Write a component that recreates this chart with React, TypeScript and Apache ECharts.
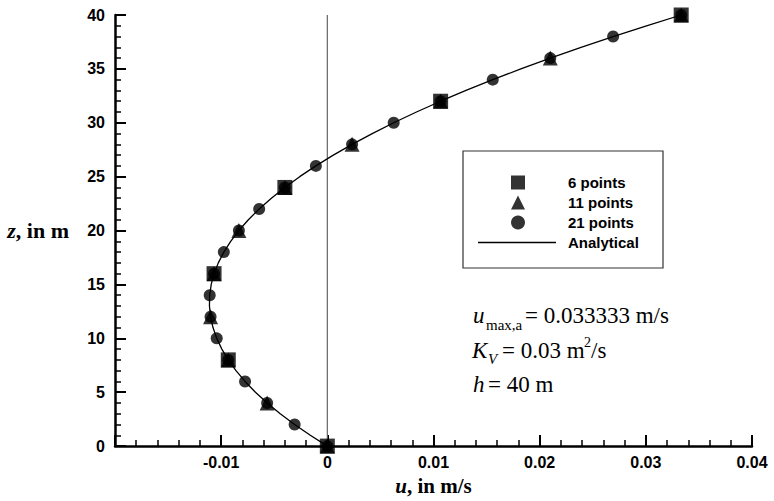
import React, { useEffect, useRef } from "react";
import * as echarts from "echarts";

// depth z (m)
const zAnalytical = [0,1,2,3,4,5,6,7,8,9,10,11,12,13,14,15,16,17,18,19,20,21,22,23,24,25,26,27,28,29,30,31,32,33,34,35,36,37,38,39,40];
// velocity u (m/s), analytical profile
const uAnalytical = [0,-0.001604,-0.003083,-0.004437,-0.005667,-0.006771,-0.00775,-0.008604,-0.009333,-0.009937,-0.010417,-0.010771,-0.011,-0.011104,-0.011083,-0.010937,-0.010667,-0.010271,-0.00975,-0.009104,-0.008333,-0.007437,-0.006417,-0.005271,-0.004,-0.002604,-0.001083,0.000562,0.002333,0.004229,0.00625,0.008396,0.010667,0.013062,0.015583,0.018229,0.021,0.023896,0.026917,0.030062,0.033333];

const z6 = [0, 8, 16, 24, 32, 40];
const u6 = [0, -0.00933, -0.01067, -0.004, 0.01067, 0.03333];

const z11 = [0, 4, 8, 12, 16, 20, 24, 28, 32, 36, 40];
const u11 = [0, -0.00567, -0.00933, -0.011, -0.01067, -0.00833, -0.004, 0.00233, 0.01067, 0.021, 0.03333];

const z21 = [0,2,4,6,8,10,12,14,16,18,20,22,24,26,28,30,32,34,36,38,40];
const u21 = [0,-0.00308,-0.00567,-0.00775,-0.00933,-0.01042,-0.011,-0.01108,-0.01067,-0.00975,-0.00833,-0.00642,-0.004,-0.00108,0.00233,0.00625,0.01067,0.01558,0.021,0.02692,0.03333];

const zeroLineZ = [0, 40];
const zeroLineU = [0, 0];

const markerLegend = ["6 points", "11 points", "21 points"];
const lineLegend = ["Analytical"];

const xMin = -0.02, xMax = 0.04, xStep = 0.01;
const yMin = 0, yMax = 40, yStep = 5;

const pair = (us: number[], zs: number[]) => us.map((u, i) => [u, zs[i]]);

export default function App() {
  const ref = useRef<HTMLDivElement>(null);
  useEffect(() => {
    document.body.style.margin = "0";
    if (!ref.current) return;
    const chart = echarts.init(ref.current, undefined, { renderer: "svg" });
    const serif = "'Liberation Serif', 'Times New Roman', serif";
    const sans = "'Liberation Sans', Arial, Helvetica, sans-serif";
    const legendText = { fontFamily: sans, fontWeight: "bold", fontSize: 15, color: "#000" };
    chart.setOption({
      animation: false,
      backgroundColor: "#fff",
      grid: { left: 115, right: 22, top: 15, bottom: 49, containLabel: false },
      legend: [
        {
          orient: "vertical",
          left: 511,
          top: 175,
          data: markerLegend,
          itemWidth: 14,
          itemHeight: 14,
          itemGap: 5,
          padding: 0,
          textStyle: { ...legendText, padding: [0, 0, 0, 38] },
        },
        {
          orient: "vertical",
          left: 478,
          top: 235,
          data: lineLegend.map((n) => ({ name: n, icon: "rect" })),
          itemWidth: 78,
          itemHeight: 1.3,
          padding: 0,
          textStyle: { ...legendText, padding: [0, 0, 0, 7] },
        },
      ],
      xAxis: {
        type: "value",
        min: xMin,
        max: xMax,
        interval: xStep,
        name: "{i|u}, in m/s",
        nameLocation: "middle",
        nameGap: 27,
        nameTextStyle: {
          fontFamily: serif, fontWeight: "bold", fontSize: 21, color: "#000",
          rich: { i: { fontFamily: serif, fontStyle: "italic", fontWeight: "bold", fontSize: 21, color: "#000" } },
        },
        axisLine: { show: true, onZero: false, lineStyle: { color: "#000", width: 2.5 } },
        axisTick: { show: true, inside: true, length: 11, lineStyle: { color: "#000", width: 2 } },
        minorTick: { show: true, splitNumber: 5, length: 6, lineStyle: { color: "#000", width: 1.5 } },
        splitLine: { show: false },
        axisLabel: {
          margin: 8,
          fontFamily: sans, fontWeight: "bold", fontSize: 16, color: "#000",
          formatter: (v: number) => {
            if (Math.abs(v - xMin) < 1e-9) return "";
            if (Math.abs(v) < 1e-9) return "0";
            return String(+v.toFixed(2));
          },
        },
      },
      yAxis: {
        type: "value",
        min: yMin,
        max: yMax,
        interval: yStep,
        name: "{i|z}, in m",
        nameLocation: "middle",
        nameRotate: 0,
        nameGap: 46,
        nameTextStyle: {
          fontFamily: serif, fontWeight: "bold", fontSize: 22, color: "#000",
          rich: { i: { fontFamily: serif, fontStyle: "italic", fontWeight: "bold", fontSize: 22, color: "#000" } },
        },
        axisLine: { show: true, onZero: false, lineStyle: { color: "#000", width: 2.5 } },
        axisTick: { show: true, inside: true, length: 11, lineStyle: { color: "#000", width: 2 } },
        minorTick: { show: true, splitNumber: 5, length: 6, lineStyle: { color: "#000", width: 1.5 } },
        splitLine: { show: false },
        axisLabel: { margin: 10, fontFamily: sans, fontWeight: "bold", fontSize: 16, color: "#000" },
      },
      series: [
        {
          name: "zero",
          type: "line",
          data: pair(zeroLineU, zeroLineZ),
          symbol: "none",
          silent: true,
          lineStyle: { color: "#666", width: 1.2 },
          z: 1,
        },
        {
          name: "Analytical",
          type: "line",
          data: pair(uAnalytical, zAnalytical),
          symbol: "none",
          showSymbol: false,
          lineStyle: { color: "#000", width: 1.3 },
          itemStyle: { color: "#000" },
          z: 2,
        },
        {
          name: "21 points",
          type: "scatter",
          data: pair(u21, z21),
          symbol: "circle",
          symbolSize: 12,
          itemStyle: { color: "#000" },
          z: 3,
        },
        {
          name: "11 points",
          type: "scatter",
          data: pair(u11, z11),
          symbol: "triangle",
          symbolSize: 15,
          itemStyle: { color: "#000" },
          z: 4,
        },
        {
          name: "6 points",
          type: "scatter",
          data: pair(u6, z6),
          symbol: "rect",
          symbolSize: 15,
          itemStyle: { color: "#000" },
          z: 5,
        },
      ],
      graphic: [
        { type: "rect", shape: { x: 463, y: 151, width: 200, height: 117 }, style: { fill: "none", stroke: "#333", lineWidth: 1.2 }, silent: true },
        { type: "text", x: 473, y: 315, style: { text: "u", font: `italic 23px ${serif}`, fill: "#000", verticalAlign: "middle" } },
        { type: "text", x: 486, y: 325, style: { text: "max,a", font: `15px ${serif}`, fill: "#000", verticalAlign: "middle" } },
        { type: "text", x: 525, y: 315, style: { text: "= 0.033333 m/s", font: `23px ${serif}`, fill: "#000", verticalAlign: "middle" } },
        { type: "text", x: 472, y: 350, style: { text: "K", font: `italic 23px ${serif}`, fill: "#000", verticalAlign: "middle" } },
        { type: "text", x: 488, y: 359, style: { text: "V", font: `italic 15px ${serif}`, fill: "#000", verticalAlign: "middle" } },
        { type: "text", x: 502, y: 350, style: { text: "= 0.03 m", font: `23px ${serif}`, fill: "#000", verticalAlign: "middle" } },
        { type: "text", x: 584, y: 342, style: { text: "2", font: `14px ${serif}`, fill: "#000", verticalAlign: "middle" } },
        { type: "text", x: 591, y: 350, style: { text: "/s", font: `23px ${serif}`, fill: "#000", verticalAlign: "middle" } },
        { type: "text", x: 473, y: 384, style: { text: "h", font: `italic 23px ${serif}`, fill: "#000", verticalAlign: "middle" } },
        { type: "text", x: 488, y: 384, style: { text: "= 40 m", font: `23px ${serif}`, fill: "#000", verticalAlign: "middle" } },
      ],
    });
    return () => chart.dispose();
  }, []);
  return <div ref={ref} style={{ width: 774, height: 501 }} />;
}
